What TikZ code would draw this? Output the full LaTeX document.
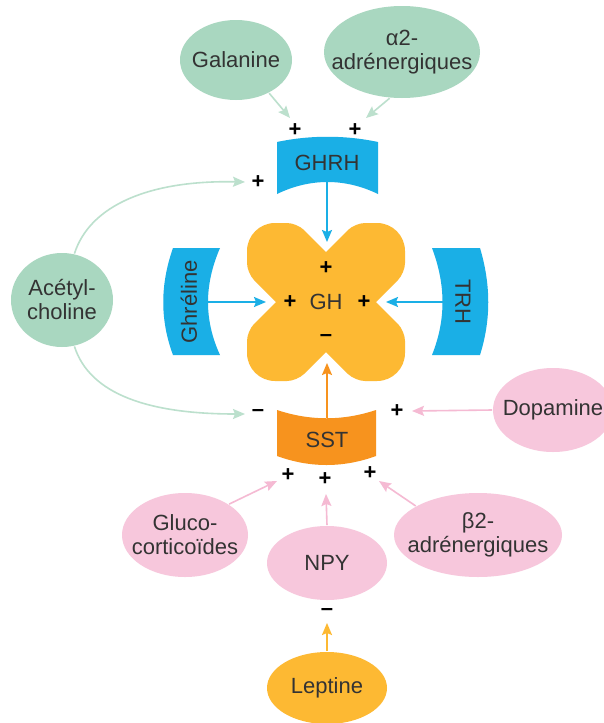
\documentclass[tikz,border=0pt]{standalone}
\usepackage{fontspec}
\setmainfont{Liberation Sans}
\usetikzlibrary{shapes.geometric, arrows.meta}

\definecolor{vert}{HTML}{A9D7C0}
\definecolor{vertf}{HTML}{BCE0CD}
\definecolor{rose}{HTML}{F7C7DC}
\definecolor{rosef}{HTML}{F5BAD3}
\definecolor{bleu}{HTML}{1AAFE6}
\definecolor{jaune}{HTML}{FDB933}
\definecolor{orangesst}{HTML}{F7931E}
\definecolor{texte}{HTML}{333333}

\begin{document}
\begin{tikzpicture}[
  x = 0.5pt, y = -0.5pt, line width = 0.8pt,
  every node/.style = {font = \fontsize{11}{12}\selectfont, text = texte},
  hormone/.style = {ellipse, inner xsep = -10pt, inner ysep = 0pt, align = center},
  signe/.style = {font = \fontsize{11}{11}\selectfont\bfseries, text = black, inner sep = 0pt},
  fleche/.style = {-{Stealth[length=6pt, width=5pt, inset=1pt]}},
  coin/.style = {rounded corners = 14pt},
  pli/.style = {rounded corners = 5pt}
]
\useasboundingbox (0,0) rectangle (604,723);
\clip (0,0) rectangle (604,723);
\fill[white] (0,0) rectangle (604,723);

% GH (croix)
\begin{scope}[shift = {(326,302)}]
\fill[jaune] (0,-50) [pli] -- (-29,-79) [coin] -- (-79,-79) [pli] -- (-79,-29) [sharp corners]
  -- (-50,0) [pli] -- (-79,29) [coin] -- (-79,79) [pli] -- (-29,79) [sharp corners]
  -- (0,50) [pli] -- (29,79) [coin] -- (79,79) [pli] -- (79,29) [sharp corners]
  -- (50,0) [pli] -- (79,-29) [coin] -- (79,-79) [pli] -- (29,-79) [sharp corners]
  -- cycle;
\end{scope}
\node (gh) at (326,302) {GH};
\node[signe] (ghT) at (326,268) {+};
\node[signe] (ghL) at (290,302) {+};
\node[signe] (ghR) at (364,302) {+};
\node[signe] (ghB) at (326,338) {–};

% recepteurs
\fill[bleu] (277,142) .. controls (310,135) and (345,135) .. (378,142)
  -- (378,194) .. controls (345,178) and (310,178) .. (277,194) -- cycle;
\node (ghrh) at (327,163) {GHRH};
\fill[bleu] (173,248) -- (220,248) .. controls (204,285) and (204,320) .. (220,355)
  -- (173,355) .. controls (160,320) and (160,285) .. (173,248) -- cycle;
\node[rotate = 90] (ghre) at (189,302) {Ghréline};
\fill[bleu] (432,248) -- (480,248) .. controls (491,285) and (491,320) .. (480,355)
  -- (432,355) .. controls (446,320) and (446,285) .. (432,248) -- cycle;
\node[rotate = -90] (trh) at (463,302) {TRH};
\fill[orangesst] (277,410) .. controls (310,421) and (343,421) .. (376,410)
  -- (376,456) .. controls (343,468) and (310,468) .. (277,456) -- cycle;
\node (sst) at (327,440) {SST};

\coordinate (ghrhB) at (327,182);
\coordinate (ghreR) at (206,302);
\coordinate (trhL) at (444,302);
\coordinate (sstT) at (327,418);
\draw[bleu, fleche] (ghrhB) -- (327,242);
\draw[bleu, fleche] (ghreR) -- (266,302);
\draw[bleu, fleche] (trhL) -- (386,302);
\draw[orangesst, fleche] (sstT) -- (327,363);

% stimulateurs de GHRH
\node[hormone, fill = vert, minimum width = 56pt, minimum height = 40pt] (gal) at (236,60) {Galanine};
\node[hormone, fill = vert, minimum width = 78pt, minimum height = 46pt] (a2) at (402,52) {α2-\\adrénergiques};
\node[hormone, fill = vert, minimum width = 51pt, minimum height = 47pt] (ach) at (62,300) {Acétyl-\\choline};
\node[signe] (p1) at (295,130) {+};
\node[signe] (p2) at (355,130) {+};
\node[signe] (p3) at (258,182) {+};
\node[signe] (m1) at (258,413) {–};
\coordinate (galE) at (290,118);
\coordinate (a2E) at (366,118);
\coordinate (achH) at (245,182);
\coordinate (achB) at (245,414);
\draw[vertf, fleche] (gal.-45) -- (galE);
\draw[vertf, fleche] (a2.-105) -- (a2E);
\draw[vertf, fleche] (ach.75) .. controls (90,205) and (150,180) .. (achH);
\draw[vertf, fleche] (ach.-75) .. controls (90,395) and (150,414) .. (achB);

% stimulateurs de SST
\node[hormone, fill = rose, minimum width = 60pt, minimum height = 42pt] (dop) at (553,410) {Dopamine};
\node[hormone, fill = rose, minimum width = 63pt, minimum height = 42pt] (gluco) at (185,535) {Gluco-\\corticoïdes};
\node[hormone, fill = rose, minimum width = 60pt, minimum height = 37pt] (npy) at (327,563) {NPY};
\node[hormone, fill = rose, minimum width = 84pt, minimum height = 42pt] (b2) at (478,535) {β2-\\adrénergiques};
\node[signe] (p4) at (397,411) {+};
\node[signe] (p5) at (288,475) {+};
\node[signe] (p6) at (325,479) {+};
\node[signe] (p7) at (370,473) {+};
\coordinate (dopE) at (412,411);
\coordinate (glucoE) at (277,481);
\coordinate (npyE) at (326,494);
\coordinate (b2E) at (379,481);
\draw[rosef, fleche] (dop.west) -- (dopE);
\draw[rosef, fleche] (gluco.35) -- (glucoE);
\draw[rosef, fleche] (npy.north) -- (npyE);
\draw[rosef, fleche] (b2.155) -- (b2E);

% leptine
\node[hormone, fill = jaune, minimum width = 60pt, minimum height = 36pt] (lep) at (327,688) {Leptine};
\node[signe] (m2) at (327,612) {–};
\coordinate (lepE) at (327,623);
\draw[jaune, fleche] (lep.north) -- (lepE);
\end{tikzpicture}
\end{document}
